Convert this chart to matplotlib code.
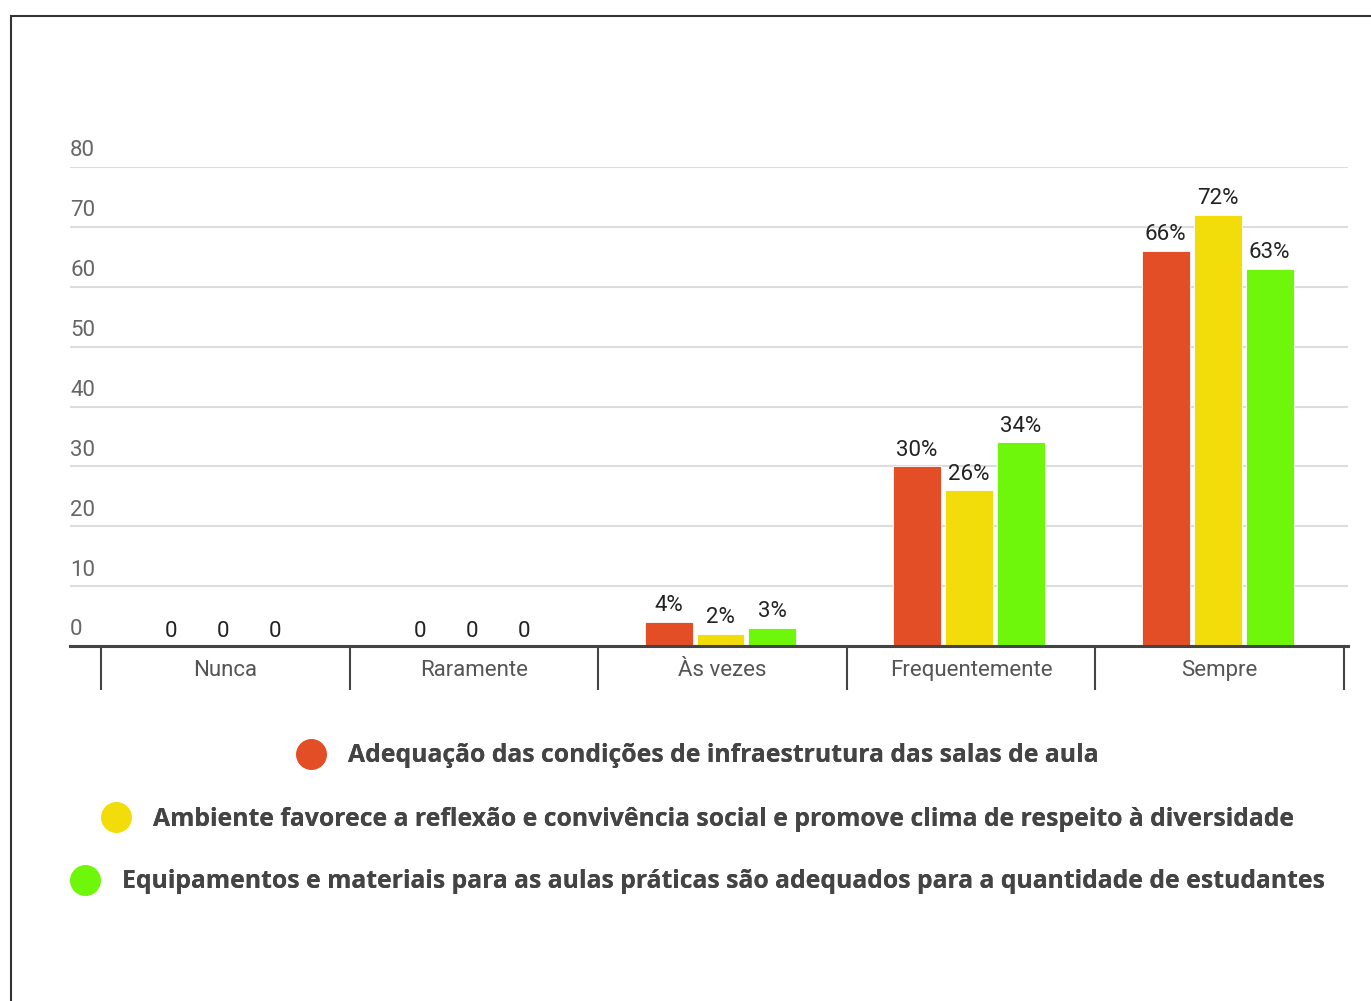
import numpy as np
import matplotlib
matplotlib.use("Agg")
from matplotlib import pyplot as plt
from matplotlib.lines import Line2D
from matplotlib.patches import Rectangle

categories = ['Nunca', 'Raramente', 'Às vezes', 'Frequentemente', 'Sempre']
series_names = [
    'Adequação das condições de infraestrutura das salas de aula',
    'Ambiente favorece a reflexão e convivência social e promove clima de respeito à diversidade',
    'Equipamentos e materiais para as aulas práticas são adequados para a quantidade de estudantes',
]
infraestrutura = [0, 0, 4, 30, 66]
ambiente = [0, 0, 2, 26, 72]
equipamentos = [0, 0, 3, 34, 63]
y_ticks = [0, 10, 20, 30, 40, 50, 60, 70, 80]

values = [infraestrutura, ambiente, equipamentos]
colors = ['#E34E26', '#F2DD0B', '#6EF70A']

plt.rcParams['font.family'] = ['Roboto', 'DejaVu Sans']

fig = plt.figure(figsize=(13.71, 10.01), dpi=100)
ax = fig.add_axes([70 / 1371, 1 - 646 / 1001, 1278 / 1371, 479 / 1001])

x = np.arange(len(categories))
step = 0.209
width = 0.193
for i, (vals, col) in enumerate(zip(values, colors)):
    pos = x + (i - 1) * step - 0.008
    ax.bar(pos, vals, width=width, color=col, edgecolor='white', linewidth=0.6, zorder=3)
    for p, v in zip(pos, vals):
        txt = '0' if v == 0 else f'{v}%'
        ax.annotate(txt, (p, v), xytext=(0, 3 if v == 0 else 4), textcoords='offset points',
                    ha='center', va='bottom', fontsize=16, color='#222222', zorder=4,
                    annotation_clip=False)

ax.set_xlim(-0.6245, 4.516)
ax.set_ylim(0, 80)

# y labels sit above the gridlines, left aligned
ax.set_yticks(y_ticks)
ax.set_yticklabels([])
ax.tick_params(axis='y', length=0)
for t in y_ticks:
    ax.annotate(str(t), (0, t), xycoords=ax.get_yaxis_transform(), xytext=(0, 4),
                textcoords='offset points', ha='left', va='bottom',
                fontsize=16, color='#666666', annotation_clip=False)
ax.yaxis.grid(True, color='#dddddd', linewidth=1.5, zorder=0)
ax.set_axisbelow(True)

ax.set_xticks(x)
ax.set_xticklabels(categories, fontsize=16, color='#555555')
ax.set_xticks(np.arange(-0.5, len(categories)), minor=True)
ax.tick_params(axis='x', which='major', length=0, pad=10)
ax.tick_params(axis='x', which='minor', length=32, width=1.5, color='#444444')

for s in ['top', 'right', 'left']:
    ax.spines[s].set_visible(False)
ax.spines['bottom'].set_color('#444444')
ax.spines['bottom'].set_linewidth(2.2)
ax.spines['bottom'].set_zorder(5)

# legend, one centered row per series
legend_y = [756, 819, 882]
for name, col, ly in zip(series_names, colors, legend_y):
    h = Line2D([], [], marker='o', linestyle='none', markersize=21, color=col)
    leg = fig.legend([h], [name], loc='center', bbox_to_anchor=(699 / 1371, 1 - ly / 1001),
                     frameon=False, handletextpad=1.0, handlelength=1.0,
                     prop={'family': ['Open Sans', 'DejaVu Sans'], 'weight': 'bold', 'size': 17.8})
    for t in leg.get_texts():
        t.set_color('#444444')
    fig.add_artist(leg)

# outer frame
fig.add_artist(Rectangle((11 / 1371, -0.1), 1.2, 1 - 16 / 1001 + 0.1, transform=fig.transFigure,
                         fill=False, edgecolor='#333333', linewidth=1.5))

fig.savefig('out.png', dpi=100)
